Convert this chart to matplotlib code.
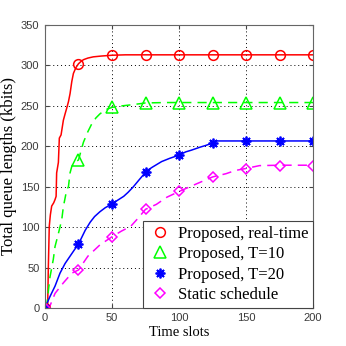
import matplotlib
matplotlib.use('Agg')
import matplotlib.pyplot as plt

# curves
red_x = [0, 1, 2, 2.5, 3.2, 4, 5, 6.5, 7.5, 8.3, 8.7, 9.5, 10, 10.7, 12, 13.7, 15, 16.2,
         17.5, 18.7, 20, 21.2, 23, 25, 27, 28.7, 32, 36, 42, 50, 60, 200]
red_y = [0, 1, 2, 50, 101, 115, 126, 130, 134, 138, 167, 175, 180, 210, 214, 232, 240, 247,
         255, 265, 280, 290, 297, 302, 305, 307, 309, 310.5, 311.5, 312.5, 313, 313]

green_x = [0, 1.2, 3.7, 6.2, 7.5, 10, 12.5, 13.7, 16.2, 17.5, 18.7, 20, 22, 25, 27, 28.7,
           32, 35, 38, 41, 45, 50, 58, 66, 75, 90, 100, 200]
green_y = [0, 2, 38, 60, 76, 92, 109, 125, 146, 150, 167, 175, 180, 183, 195, 205,
           218, 228, 235, 240, 245, 248, 250, 251.5, 253.5, 254, 254, 254]

blue_x = [0, 3.7, 7.5, 11.2, 15, 18.7, 22, 25, 30, 33.7, 37, 41, 45, 50, 54, 58.7, 62, 66,
          70, 73.6, 75, 80, 87, 93, 100, 105, 109, 116, 120, 125, 128, 200]
blue_y = [0, 14, 27, 43, 55, 64, 72, 79, 96, 106, 113, 119, 124, 128.5, 133, 138, 143, 150,
          158, 165, 168.5, 174, 181, 185, 189, 193, 195, 199, 201, 204, 206.5, 206.5]

mag_x = [0, 3.7, 7.5, 13.7, 20, 25, 32, 41, 50, 57, 64, 70, 75, 83, 91, 100, 111, 118, 125,
         135, 142, 150, 160, 175, 200]
mag_y = [0, 2.5, 18, 31, 43, 47, 64, 78, 88, 95, 101, 112, 122, 128, 137, 144, 152, 157, 162,
         166, 170, 172.5, 176, 176.5, 176.5]

# marker positions (every 25 slots)
mk_x = [0, 25, 50, 75, 100, 125, 150, 175, 200]
red_mk = [0, 302, 312.5, 313, 313, 313, 313, 313, 313]
green_mk = [0, 183, 248, 253.5, 254, 254, 254, 254, 254]
blue_mk = [0, 79, 128.5, 168.5, 189, 204, 206.5, 206.5, 206.5]
mag_mk = [0, 47, 88, 122, 144, 162, 172, 176, 176]

labels = ['Proposed, real-time', 'Proposed, T=10', 'Proposed, T=20', 'Static schedule']

fig = plt.figure(figsize=(3.46, 3.46), dpi=100)
ax = fig.add_axes([0.130, 0.110, 0.775, 0.818])

lw = 1.1
ax.plot(red_x, red_y, color='#ff0000', lw=lw)
ax.plot(green_x, green_y, color='#00ff00', lw=lw, dashes=(6, 4))
ax.plot(blue_x, blue_y, color='#0000ff', lw=lw)
ax.plot(mag_x, mag_y, color='#ff00ff', lw=lw, dashes=(6, 4))

ms = 7
ax.plot(mk_x, red_mk, 'o', ms=ms, mfc='none', mec='#ff0000', mew=1.1, label=labels[0])
ax.plot(mk_x, green_mk, '^', ms=ms + 1, mfc='none', mec='#00ff00', mew=1.1, label=labels[1])
ax.plot(mk_x, blue_mk, marker=(8, 2, 0), ls='none', ms=ms, mec='#0000ff', mew=1.3, label=labels[2])
ax.plot(mk_x, mag_mk, 'D', ms=ms - 1.5, mfc='none', mec='#ff00ff', mew=1.1, label=labels[3])

ax.set_xlim(0, 200)
ax.set_ylim(0, 350)
ax.set_xticks(range(0, 201, 50))
ax.set_yticks(range(0, 351, 50))
ax.grid(True, color='black', linestyle=(0, (1, 3)), lw=0.7)
ax.tick_params(direction='in', length=3, top=True, right=True, labelsize=8,
               labelcolor='#3a3a3a', color='#444444', pad=4)
for lab in ax.get_xticklabels() + ax.get_yticklabels():
    lab.set_family('Liberation Sans')
for s in ax.spines.values():
    s.set_color('#666666')
    s.set_linewidth(0.8)

ax.set_xlabel('Time slots', family='Liberation Serif', fontsize=10.5, labelpad=2)
ax.set_ylabel('Total queue lengths (kbits)', family='Liberation Serif', fontsize=12, labelpad=3)

leg = ax.legend(loc='lower right', borderaxespad=0, prop={'family': 'Liberation Serif', 'size': 12},
                fancybox=False, framealpha=1, edgecolor='#444444', handlelength=1.5,
                handletextpad=0.3, labelspacing=0.27, borderpad=0.28)
leg.get_frame().set_linewidth(0.8)

fig.savefig('out.png', dpi=100)
